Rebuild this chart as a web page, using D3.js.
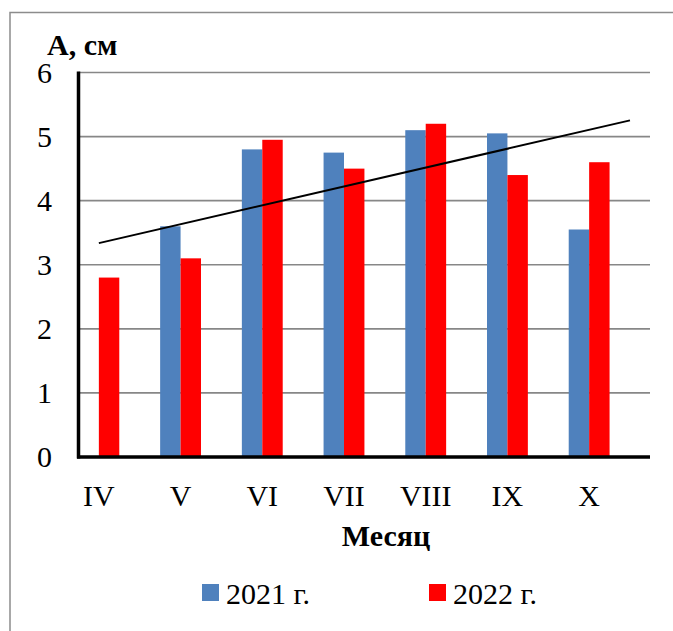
<!DOCTYPE html>
<html>
<head>
<meta charset="utf-8">
<script src="https://cdn.jsdelivr.net/npm/d3@7/dist/d3.min.js"></script>
<style>
  body { margin: 0; background: #fff; }
</style>
</head>
<body>
<div id="chart"></div>
<script>
// Data
var months = ["IV", "V", "VI", "VII", "VIII", "IX", "X"];
var values2021 = [null, 3.6, 4.8, 4.75, 5.1, 5.05, 3.55];
var values2022 = [2.8, 3.1, 4.95, 4.5, 5.2, 4.4, 4.6];
var yTicks = [0, 1, 2, 3, 4, 5, 6];
var seriesNames = ["2021 г.", "2022 г."];

var svgWidth = 673;
var svgHeight = 631;
var serif = "Liberation Serif";

var svg = d3.select("#chart")
  .append("svg")
  .attr("width", svgWidth)
  .attr("height", svgHeight)
  .style("font-family", serif);

// outer frame (only top and left edges show in the crop)
svg.append("rect")
  .attr("x", 10)
  .attr("y", 12.5)
  .attr("width", 700)
  .attr("height", 700)
  .attr("fill", "none")
  .attr("stroke", "#8c8c8c")
  .attr("stroke-width", 1.5);

var axisX = 78.5;
var plotRight = 650;

var x = d3.scaleBand()
  .domain(months)
  .range([58, 630])
  .paddingInner(0)
  .paddingOuter(0);

var y = d3.scaleLinear()
  .domain([0, 6])
  .range([457, 72.5]);

var barW = x.bandwidth() / 4;

// gridlines
svg.append("g")
  .selectAll("line")
  .data(yTicks.slice(1))
  .enter()
  .append("line")
  .attr("x1", axisX)
  .attr("x2", plotRight)
  .attr("y1", d => y(d))
  .attr("y2", d => y(d))
  .attr("stroke", "#878787")
  .attr("stroke-width", 1.6);

// y tick labels
svg.append("g")
  .selectAll("text")
  .data(yTicks)
  .enter()
  .append("text")
  .attr("x", 52)
  .attr("y", d => y(d))
  .attr("dy", "0.34em")
  .attr("text-anchor", "end")
  .style("font-size", "30px")
  .text(d => d);

// bars
var groups = [
  { name: seriesNames[0], values: values2021, color: "#4F81BD", offset: -1 },
  { name: seriesNames[1], values: values2022, color: "#FF0000", offset: 0 }
];

groups.forEach(function(s) {
  svg.append("g")
    .selectAll("rect")
    .data(months.map((m, i) => ({ m: m, v: s.values[i] })).filter(d => d.v != null))
    .enter()
    .append("rect")
    .attr("x", d => x(d.m) + x.bandwidth() / 2 + s.offset * barW)
    .attr("width", barW)
    .attr("y", d => y(d.v))
    .attr("height", d => y(0) - y(d.v))
    .attr("fill", s.color);
});

// linear trend of 2022, extended half a category forward
var n = values2022.length;
var xs = d3.range(1, n + 1);
var mx = d3.mean(xs), my = d3.mean(values2022);
var slope = d3.sum(xs, (xi, i) => (xi - mx) * (values2022[i] - my)) / d3.sum(xs, xi => (xi - mx) * (xi - mx));
var icpt = my - slope * mx;
var step = x.step();
var x0 = x(months[0]) + x.bandwidth() / 2;
var xPix = k => x0 + (k - 1) * step;

svg.append("line")
  .attr("x1", xPix(1))
  .attr("y1", y(icpt + slope * 1))
  .attr("x2", xPix(n + 0.5))
  .attr("y2", y(icpt + slope * (n + 0.5)))
  .attr("stroke", "#000")
  .attr("stroke-width", 2);

// axes lines
svg.append("line")
  .attr("x1", axisX).attr("x2", axisX)
  .attr("y1", y(6) - 1).attr("y2", y(0) + 1.5)
  .attr("stroke", "#000").attr("stroke-width", 3.5);

svg.append("line")
  .attr("x1", axisX - 1.5).attr("x2", plotRight)
  .attr("y1", y(0)).attr("y2", y(0))
  .attr("stroke", "#000").attr("stroke-width", 3.5);

// x labels
svg.append("g")
  .selectAll("text")
  .data(months)
  .enter()
  .append("text")
  .attr("x", d => x(d) + x.bandwidth() / 2)
  .attr("y", 506)
  .attr("text-anchor", "middle")
  .style("font-size", "30px")
  .text(d => d);

// axis titles
svg.append("text")
  .attr("x", 47)
  .attr("y", 55)
  .style("font-size", "30px")
  .style("font-weight", "bold")
  .text("А, см");

svg.append("text")
  .attr("x", 386)
  .attr("y", 546)
  .attr("text-anchor", "middle")
  .style("font-size", "30px")
  .style("font-weight", "bold")
  .text("Месяц");

// legend
var legendX = [202, 429];
groups.forEach(function(s, i) {
  svg.append("rect")
    .attr("x", legendX[i])
    .attr("y", 584)
    .attr("width", 17)
    .attr("height", 17)
    .attr("fill", s.color);
  svg.append("text")
    .attr("x", legendX[i] + 24)
    .attr("y", 604)
    .style("font-size", "30px")
    .text(s.name);
});
</script>
</body>
</html>
